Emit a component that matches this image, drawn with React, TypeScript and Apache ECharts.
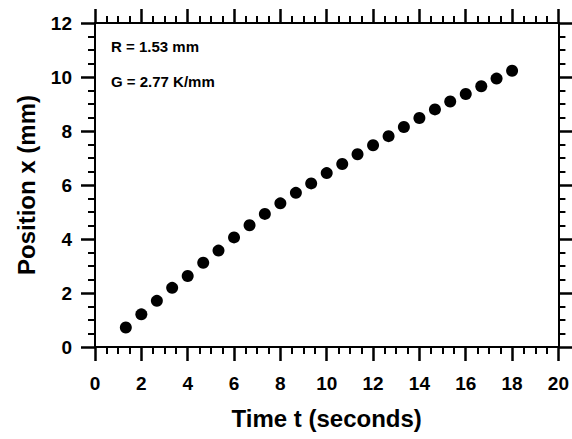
import React, { useEffect, useRef } from "react";
import * as echarts from "echarts";

const timeSeconds = [1.33, 2.0, 2.67, 3.33, 4.0, 4.67, 5.33, 6.0, 6.67, 7.33, 8.0, 8.67, 9.33, 10.0, 10.67, 11.33, 12.0, 12.67, 13.33, 14.0, 14.67, 15.33, 16.0, 16.67, 17.33, 18.0];
const positionMm = [0.72, 1.21, 1.71, 2.19, 2.63, 3.12, 3.57, 4.06, 4.51, 4.93, 5.32, 5.71, 6.06, 6.44, 6.78, 7.14, 7.47, 7.81, 8.15, 8.48, 8.8, 9.09, 9.37, 9.66, 9.94, 10.23];
const annotations = ["R = 1.53 mm", "G = 2.77 K/mm"];
const xTitle = "Time t (seconds)";
const yTitle = "Position x (mm)";

const FONT = "'Liberation Sans', Arial, sans-serif";

export default function App() {
  const ref = useRef<HTMLDivElement>(null);
  useEffect(() => {
    if (!ref.current) return;
    const chart = echarts.init(ref.current, undefined, { renderer: "svg" });
    const line = { show: true, onZero: false, lineStyle: { color: "#000", width: 2 } };
    const tick = { show: true, length: 14, lineStyle: { color: "#000", width: 2.5 } };
    const minor = { show: true, splitNumber: 4, length: 7, lineStyle: { color: "#000", width: 2 } };
    const label = { color: "#000", fontSize: 19, fontWeight: "bold", fontFamily: FONT };
    const nameStyle = { color: "#000", fontSize: 24, fontWeight: "bold", fontFamily: FONT };
    const data = timeSeconds.map((t, i) => [t, positionMm[i]]);
    chart.setOption({
      animation: false,
      grid: { left: 95, right: 10, top: 23, bottom: 92 },
      xAxis: [
        {
          type: "value", position: "bottom", min: 0, max: 20, interval: 2,
          axisLine: line, axisTick: tick, minorTick: minor, splitLine: { show: false }, minorSplitLine: { show: false },
          axisLabel: { ...label, margin: 27 },
          name: xTitle, nameLocation: "middle", nameGap: 59, nameTextStyle: nameStyle,
        },
        {
          type: "value", position: "top", min: 0, max: 20, interval: 2,
          axisLine: line, axisTick: tick, minorTick: minor, splitLine: { show: false },
          axisLabel: { show: false },
        },
      ],
      yAxis: [
        {
          type: "value", position: "left", min: 0, max: 12, interval: 2,
          axisLine: line, axisTick: tick, minorTick: minor, splitLine: { show: false },
          axisLabel: { ...label, margin: 23 },
          name: yTitle, nameLocation: "middle", nameGap: 57, nameTextStyle: nameStyle,
        },
        {
          type: "value", position: "right", min: 0, max: 12, interval: 2,
          axisLine: line, axisTick: tick, minorTick: minor, splitLine: { show: false },
          axisLabel: { show: false },
        },
      ],
      graphic: annotations.map((txt, i) => ({
        type: "text",
        left: 111,
        top: 39 + i * 35,
        style: { text: txt, font: `bold 15px ${FONT}`, fill: "#000" },
      })),
      series: [
        {
          type: "scatter",
          xAxisIndex: 0,
          yAxisIndex: 0,
          data,
          symbol: "circle",
          symbolSize: 12,
          itemStyle: { color: "#000", opacity: 1 },
        },
      ],
    });
    return () => chart.dispose();
  }, []);
  return (
    <div
      ref={ref}
      style={{ position: "fixed", left: 0, top: 0, width: 572, height: 439, background: "#fff" }}
    />
  );
}
